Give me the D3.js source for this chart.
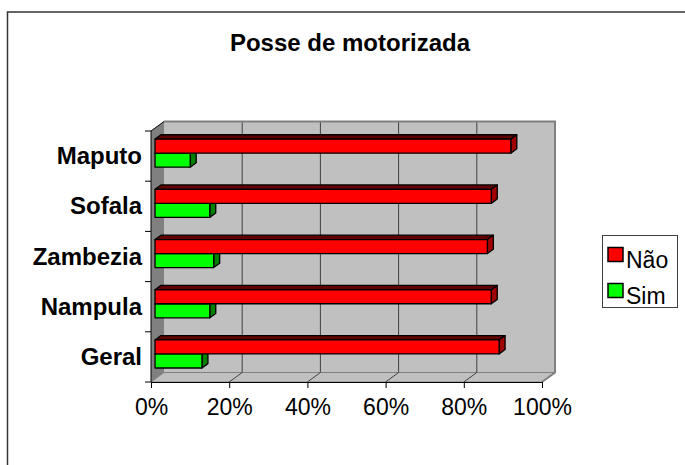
<!DOCTYPE html>
<html>
<head>
<meta charset="utf-8">
<script src="https://cdn.jsdelivr.net/npm/d3@7"></script>
<style>
  body { margin: 0; background: #fff; }
  text { font-family: Arial, "Liberation Sans", sans-serif; }
</style>
</head>
<body>
<div id="chart"></div>
<script>
// Posse de motorizada - 3D style clustered bars

let categories = ["Maputo", "Sofala", "Zambezia", "Nampula", "Geral"];
let series = ["Não", "Sim"];
let naoValues = [0.91, 0.86, 0.85, 0.86, 0.88];
let simValues = [0.09, 0.14, 0.15, 0.14, 0.12];
let tickValues = [0, 0.2, 0.4, 0.6, 0.8, 1];

// face colours per series: front, top, end
let faceColors = {
  "Não": ["#ff0000", "#600000", "#a00000"],
  "Sim": ["#00ff00", "#006000", "#008000"]
};

let w = 685, h = 465;

let svg = d3.select("#chart").append("svg")
  .attr("width", w)
  .attr("height", h);

// outer chart border (runs off the right and bottom edge)
svg.append("rect")
  .attr("x", 7.5).attr("y", 12)
  .attr("width", 720).attr("height", 500)
  .attr("fill", "none")
  .attr("stroke", "#333")
  .attr("stroke-width", 1.5);

svg.append("text")
  .attr("x", 350).attr("y", 51)
  .attr("text-anchor", "middle")
  .attr("font-size", 24)
  .attr("font-weight", "bold")
  .text("Posse de motorizada");

// scales
let x = d3.scaleLinear().domain([0, 1]).range([151, 542]);
let y = d3.scaleBand().domain(categories).range([131, 382]);
let y1 = d3.scaleBand().domain(series).range([0, y.bandwidth()]).paddingOuter(0.79);

// depth vector of the box
let depth = [13, -9.5];
function p(px, py, z) {
  return [px + z * depth[0], py + z * depth[1]];
}
function poly(pts) {
  return pts.map(d => d.join(",")).join(" ");
}

let y0 = y.range()[0], yB = y.range()[1];
let xL = x(0), xR = x(1);

// back wall
svg.append("polygon")
  .attr("points", poly([p(xL, y0, 1), p(xR, y0, 1), p(xR, yB, 1), p(xL, yB, 1)]))
  .attr("fill", "#c0c0c0");

// floor
svg.append("polygon")
  .attr("points", poly([p(xL, yB, 0), p(xR, yB, 0), p(xR, yB, 1), p(xL, yB, 1)]))
  .attr("fill", "#c0c0c0")
  .attr("stroke", "#808080")
  .attr("stroke-width", 1);

// side wall
svg.append("polygon")
  .attr("points", poly([p(xL, y0, 0), p(xL, y0, 1), p(xL, yB, 1), p(xL, yB, 0)]))
  .attr("fill", "#808080");

// gridlines on wall + floor
let grid = svg.append("g");
tickValues.slice(1, -1).forEach(function(t) {
  let a = p(x(t), y0, 1), b = p(x(t), yB, 1), c = p(x(t), yB, 0);
  grid.append("polyline")
    .attr("points", poly([a, b, c]))
    .attr("fill", "none")
    .attr("stroke", "#404040")
    .attr("stroke-width", 1);
});

// back wall border
svg.append("polyline")
  .attr("points", poly([p(xL, y0, 1), p(xR, y0, 1), p(xR, yB, 1), p(xR, yB, 0)]))
  .attr("fill", "none")
  .attr("stroke", "#808080")
  .attr("stroke-width", 2);

// bars
let zf = 0.31, zb = 0.77;
let bars = [];
categories.forEach(function(c, i) {
  bars.push({cat: c, s: "Sim", v: simValues[i]});
  bars.push({cat: c, s: "Não", v: naoValues[i]});
});

let barG = svg.append("g");
bars.forEach(function(d) {
  let top = y(d.cat) + y1(d.s), bot = top + y1.bandwidth();
  let a = x(0), b = x(d.v);
  let col = faceColors[d.s];
  let g = barG.append("g")
    .attr("stroke", "#000")
    .attr("stroke-width", 1.3)
    .attr("stroke-linejoin", "round");
  g.append("polygon")
    .attr("points", poly([p(a, top, zf), p(b, top, zf), p(b, top, zb), p(a, top, zb)]))
    .attr("fill", col[1]);
  g.append("polygon")
    .attr("points", poly([p(b, top, zf), p(b, top, zb), p(b, bot, zb), p(b, bot, zf)]))
    .attr("fill", col[2]);
  g.append("polygon")
    .attr("points", poly([p(a, top, zf), p(b, top, zf), p(b, bot, zf), p(a, bot, zf)]))
    .attr("fill", col[0]);
});

// x axis
let xAxis = d3.axisBottom(x)
  .tickValues(tickValues)
  .tickFormat(d3.format(".0%"))
  .tickSize(6)
  .tickPadding(11);

let xg = svg.append("g")
  .attr("transform", "translate(0," + yB + ")")
  .call(xAxis);
xg.select(".domain").attr("stroke", "#000");
xg.selectAll(".tick line").attr("stroke", "#000");
xg.selectAll("text")
  .attr("font-size", 23)
  .attr("font-family", "Arial, 'Liberation Sans', sans-serif")
  .attr("fill", "#000");

// category axis (ticks on band edges, labels in the middle)
let cg = svg.append("g").attr("stroke", "#000").attr("stroke-width", 1);
cg.append("line")
  .attr("x1", xL).attr("x2", xL)
  .attr("y1", y0).attr("y2", yB);
cg.append("line")
  .attr("x1", xL).attr("y1", y0)
  .attr("x2", p(xL, y0, 1)[0]).attr("y2", p(xL, y0, 1)[1]);
categories.concat(["end"]).forEach(function(c) {
  let yy = c === "end" ? yB : y(c);
  cg.append("line")
    .attr("x1", xL - 6).attr("x2", xL)
    .attr("y1", yy).attr("y2", yy);
});

svg.append("g").selectAll("text")
  .data(categories)
  .enter()
  .append("text")
  .attr("x", 142)
  .attr("y", d => y(d) + y.bandwidth() / 2 + 8)
  .attr("text-anchor", "end")
  .attr("font-size", 24)
  .attr("font-weight", "bold")
  .text(d => d);

// legend
let lg = svg.append("g");
lg.append("rect")
  .attr("x", 602.5).attr("y", 235.5)
  .attr("width", 75).attr("height", 72)
  .attr("fill", "#fff")
  .attr("stroke", "#404040")
  .attr("stroke-width", 1);

series.forEach(function(s, i) {
  let ly = 247.5 + i * 36;
  lg.append("rect")
    .attr("x", 608).attr("y", ly)
    .attr("width", 15).attr("height", 14)
    .attr("fill", faceColors[s][0])
    .attr("stroke", "#000")
    .attr("stroke-width", 1.5);
  lg.append("text")
    .attr("x", 626).attr("y", ly + 20)
    .attr("font-size", 23)
    .text(s);
});
</script>
</body>
</html>
